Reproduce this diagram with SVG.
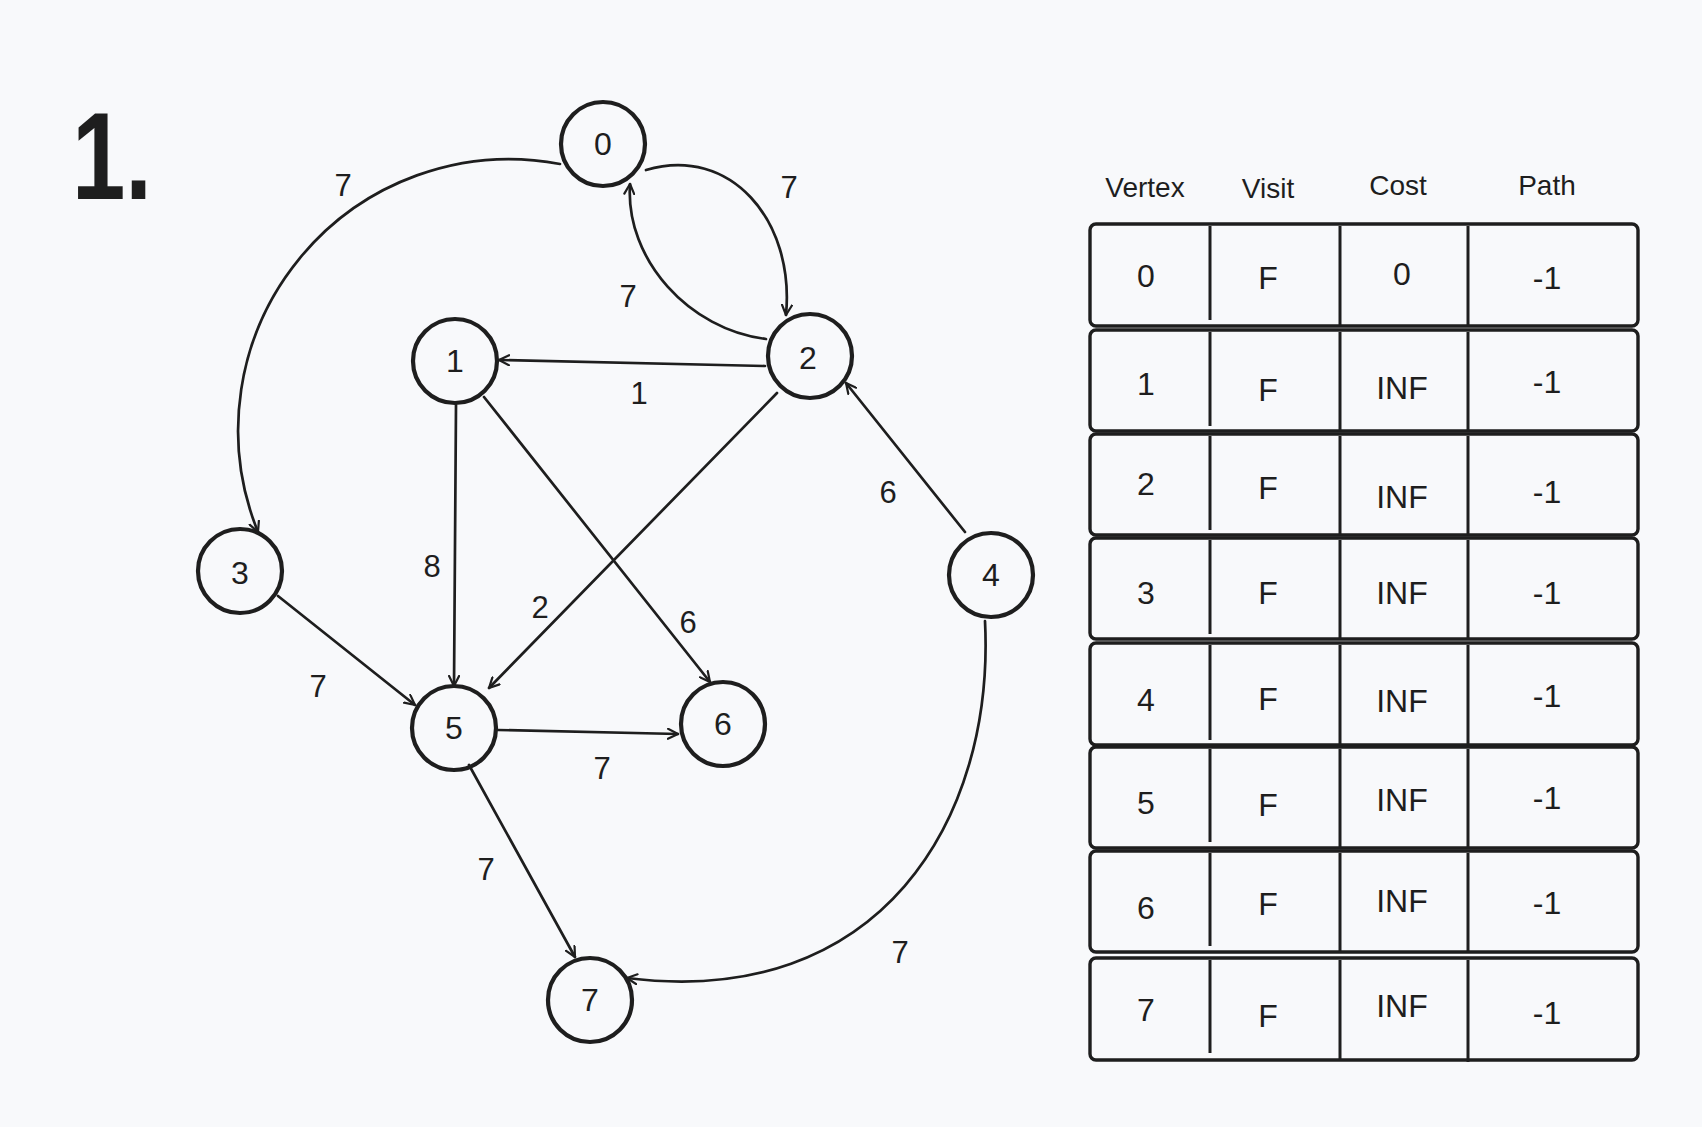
<svg xmlns="http://www.w3.org/2000/svg" width="1702" height="1127" viewBox="0 0 1702 1127">
<defs>
<style>
.bg{fill:#f8f9fb}
.node circle{fill:none;stroke:#1e1e1e;stroke-width:4.2}
.t{font-family:"Liberation Sans","Noto Sans",sans-serif;fill:#1e1e1e;text-anchor:middle;dominant-baseline:central}
.nl{font-size:32px}
.el{font-size:31px}
.edge{fill:none;stroke:#1e1e1e;stroke-width:2.7;stroke-linecap:round;marker-end:url(#arr)}
.row rect{fill:none;stroke:#1e1e1e;stroke-width:3.4}
.row line{stroke:#1e1e1e;stroke-width:3}
.cell{font-size:32px}
.hd{font-size:28px}
</style>
<marker id="arr" viewBox="0 0 12 12" refX="11" refY="6" markerWidth="12" markerHeight="12" markerUnits="userSpaceOnUse" orient="auto">
<path d="M1,1 L11,6 L1,11" fill="none" stroke="#1e1e1e" stroke-width="2.2" stroke-linecap="round" stroke-linejoin="round"/>
</marker>
</defs>
<rect class="bg" x="0" y="0" width="1702" height="1127"/>
<text id="title" x="72" y="199" font-family="Liberation Sans, sans-serif" font-weight="bold" font-size="124" fill="#1e1e1e" textLength="80" lengthAdjust="spacingAndGlyphs">1.</text>

<g id="connectors">
<path class="edge" d="M 560 164 A 271 271 0 0 0 258 532"/>
<path class="edge" d="M 646 170 C 730 145, 795 220, 786 315"/>
<path class="edge" d="M 766 339 C 690 330, 625 260, 630 184"/>
<path class="edge" d="M 765 366 L 499 360"/>
<path class="edge" d="M 777 393 L 489 688"/>
<path class="edge" d="M 456 405 L 454 686"/>
<path class="edge" d="M 484 397 L 710 682"/>
<path class="edge" d="M 965 532 L 846 383"/>
<path class="edge" d="M 278 596 L 415 705"/>
<path class="edge" d="M 498 730 L 678 734"/>
<path class="edge" d="M 469 765 L 575 957"/>
<path class="edge" d="M 985 621 C 995 820, 880 1010, 627 978"/>
</g>

<g id="edge-labels">
<text class="t el" x="343" y="185">7</text>
<text class="t el" x="789" y="187">7</text>
<text class="t el" x="628" y="296">7</text>
<text class="t el" x="639" y="393">1</text>
<text class="t el" x="888" y="492">6</text>
<text class="t el" x="432" y="566">8</text>
<text class="t el" x="540" y="607">2</text>
<text class="t el" x="688" y="622">6</text>
<text class="t el" x="318" y="686">7</text>
<text class="t el" x="602" y="768">7</text>
<text class="t el" x="486" y="869">7</text>
<text class="t el" x="900" y="952">7</text>
</g>

<g id="node-0" class="node"><circle cx="603" cy="144" r="42"/><text class="t nl" x="603" y="144">0</text></g>
<g id="node-1" class="node"><circle cx="455" cy="361" r="42"/><text class="t nl" x="455" y="361">1</text></g>
<g id="node-2" class="node"><circle cx="810" cy="356" r="42"/><text class="t nl" x="808" y="358">2</text></g>
<g id="node-3" class="node"><circle cx="240" cy="571" r="42"/><text class="t nl" x="240" y="573">3</text></g>
<g id="node-4" class="node"><circle cx="991" cy="575" r="42"/><text class="t nl" x="991" y="575">4</text></g>
<g id="node-5" class="node"><circle cx="454" cy="728" r="42"/><text class="t nl" x="454" y="728">5</text></g>
<g id="node-6" class="node"><circle cx="723" cy="724" r="42"/><text class="t nl" x="723" y="724">6</text></g>
<g id="node-7" class="node"><circle cx="590" cy="1000" r="42"/><text class="t nl" x="590" y="1000">7</text></g>

<g id="table-header">
<text class="t hd" x="1145" y="187">Vertex</text>
<text class="t hd" x="1268" y="188">Visit</text>
<text class="t hd" x="1398" y="185">Cost</text>
<text class="t hd" x="1547" y="185">Path</text>
</g>

<g id="row-0" class="row">
<rect x="1090" y="224" width="548" height="102" rx="6"/>
<line x1="1210" y1="226" x2="1210" y2="320"/><line x1="1340" y1="226" x2="1340" y2="326"/><line x1="1468" y1="226" x2="1468" y2="326"/>
<text class="t cell" x="1146" y="276">0</text><text class="t cell" x="1268" y="278">F</text><text class="t cell" x="1402" y="274">0</text><text class="t cell" x="1547" y="278">-1</text>
</g>
<g id="row-1" class="row">
<rect x="1090" y="330" width="548" height="101" rx="6"/>
<line x1="1210" y1="332" x2="1210" y2="426"/><line x1="1340" y1="332" x2="1340" y2="431"/><line x1="1468" y1="332" x2="1468" y2="431"/>
<text class="t cell" x="1146" y="384">1</text><text class="t cell" x="1268" y="390">F</text><text class="t cell" x="1402" y="388">INF</text><text class="t cell" x="1547" y="382">-1</text>
</g>
<g id="row-2" class="row">
<rect x="1090" y="434" width="548" height="101" rx="6"/>
<line x1="1210" y1="436" x2="1210" y2="530"/><line x1="1340" y1="436" x2="1340" y2="535"/><line x1="1468" y1="436" x2="1468" y2="535"/>
<text class="t cell" x="1146" y="484">2</text><text class="t cell" x="1268" y="488">F</text><text class="t cell" x="1402" y="497">INF</text><text class="t cell" x="1547" y="492">-1</text>
</g>
<g id="row-3" class="row">
<rect x="1090" y="538" width="548" height="101" rx="6"/>
<line x1="1210" y1="540" x2="1210" y2="634"/><line x1="1340" y1="540" x2="1340" y2="639"/><line x1="1468" y1="540" x2="1468" y2="639"/>
<text class="t cell" x="1146" y="593">3</text><text class="t cell" x="1268" y="593">F</text><text class="t cell" x="1402" y="593">INF</text><text class="t cell" x="1547" y="593">-1</text>
</g>
<g id="row-4" class="row">
<rect x="1090" y="643" width="548" height="102" rx="6"/>
<line x1="1210" y1="645" x2="1210" y2="740"/><line x1="1340" y1="645" x2="1340" y2="745"/><line x1="1468" y1="645" x2="1468" y2="745"/>
<text class="t cell" x="1146" y="700">4</text><text class="t cell" x="1268" y="699">F</text><text class="t cell" x="1402" y="701">INF</text><text class="t cell" x="1547" y="696">-1</text>
</g>
<g id="row-5" class="row">
<rect x="1090" y="747" width="548" height="101" rx="6"/>
<line x1="1210" y1="749" x2="1210" y2="842"/><line x1="1340" y1="749" x2="1340" y2="848"/><line x1="1468" y1="749" x2="1468" y2="848"/>
<text class="t cell" x="1146" y="803">5</text><text class="t cell" x="1268" y="805">F</text><text class="t cell" x="1402" y="800">INF</text><text class="t cell" x="1547" y="798">-1</text>
</g>
<g id="row-6" class="row">
<rect x="1090" y="851" width="548" height="101" rx="6"/>
<line x1="1210" y1="853" x2="1210" y2="946"/><line x1="1340" y1="853" x2="1340" y2="952"/><line x1="1468" y1="853" x2="1468" y2="952"/>
<text class="t cell" x="1146" y="908">6</text><text class="t cell" x="1268" y="904">F</text><text class="t cell" x="1402" y="901">INF</text><text class="t cell" x="1547" y="903">-1</text>
</g>
<g id="row-7" class="row">
<rect x="1090" y="958" width="548" height="102" rx="6"/>
<line x1="1210" y1="960" x2="1210" y2="1053"/><line x1="1340" y1="960" x2="1340" y2="1060"/><line x1="1468" y1="960" x2="1468" y2="1062"/>
<text class="t cell" x="1146" y="1010">7</text><text class="t cell" x="1268" y="1016">F</text><text class="t cell" x="1402" y="1006">INF</text><text class="t cell" x="1547" y="1013">-1</text>
</g>
</svg>
